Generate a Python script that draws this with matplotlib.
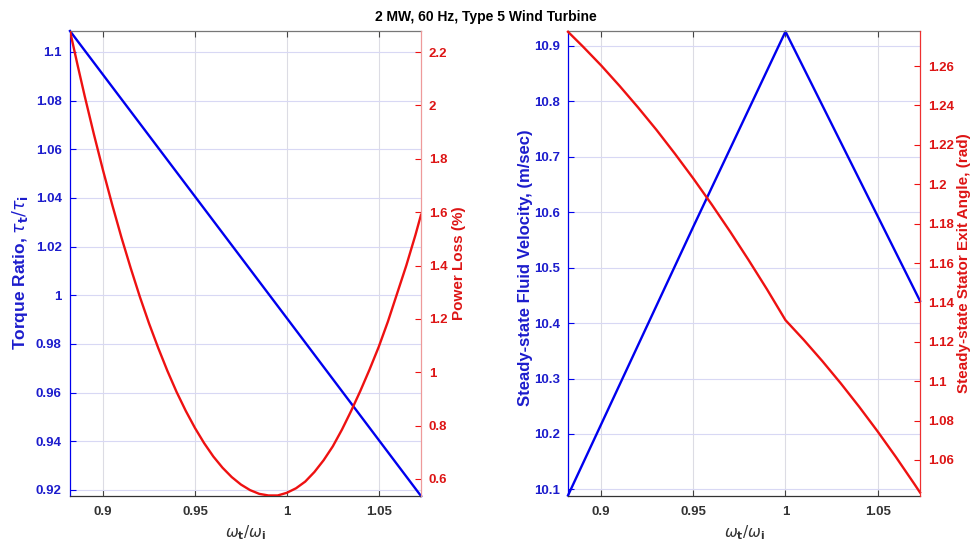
import matplotlib
matplotlib.use("Agg")
import matplotlib.pyplot as plt
from matplotlib.ticker import FuncFormatter

plt.rcParams['font.family'] = ['Liberation Sans', 'DejaVu Sans']
plt.rcParams['mathtext.fontset'] = 'dejavusans'

# ---------------- data ----------------
title = "2 MW, 60 Hz, Type 5 Wind Turbine"

# left panel
speed_ratio_torque = [0.882, 0.950, 1.000, 1.073]
torque_ratio = [1.1086, 1.0406, 0.9906, 0.9175]

speed_ratio_loss = [0.882, 0.886, 0.890, 0.895, 0.900, 0.905, 0.910, 0.915, 0.920, 0.925,
                    0.930, 0.935, 0.940, 0.945, 0.950, 0.955, 0.960, 0.965, 0.970, 0.975,
                    0.980, 0.985, 0.990, 0.995, 1.000, 1.005, 1.010, 1.015, 1.020, 1.025,
                    1.030, 1.035, 1.040, 1.045, 1.050, 1.055, 1.060, 1.065, 1.070, 1.073]
power_loss = [2.279, 2.155, 2.035, 1.892, 1.756, 1.627, 1.505, 1.391, 1.283, 1.183,
              1.091, 1.005, 0.926, 0.855, 0.791, 0.734, 0.684, 0.642, 0.607, 0.579,
              0.558, 0.544, 0.538, 0.538, 0.548, 0.565, 0.590, 0.626, 0.670, 0.722,
              0.785, 0.855, 0.930, 1.010, 1.095, 1.190, 1.295, 1.400, 1.515, 1.590]

# right panel
speed_ratio_vel = [0.882, 0.950, 1.000, 1.073]
fluid_velocity = [10.089, 10.574, 10.926, 10.440]

speed_ratio_angle = [0.882, 0.890, 0.900, 0.910, 0.920, 0.930, 0.940, 0.950, 0.960, 0.970,
                     0.980, 0.990, 1.000, 1.010, 1.020, 1.030, 1.040, 1.050, 1.060, 1.070, 1.073]
exit_angle = [1.2774, 1.2700, 1.2603, 1.2499, 1.2390, 1.2276, 1.2155, 1.2029, 1.1897, 1.1759,
              1.1615, 1.1466, 1.1310, 1.1209, 1.1102, 1.0989, 1.0870, 1.0745, 1.0614, 1.0477, 1.0435]

x_ticks = [0.9, 0.95, 1.0, 1.05]
torque_ticks = [0.92, 0.94, 0.96, 0.98, 1.0, 1.02, 1.04, 1.06, 1.08, 1.1]
loss_ticks = [0.6, 0.8, 1.0, 1.2, 1.4, 1.6, 1.8, 2.0, 2.2]
vel_ticks = [10.1, 10.2, 10.3, 10.4, 10.5, 10.6, 10.7, 10.8, 10.9]
angle_ticks = [1.06, 1.08, 1.1, 1.12, 1.14, 1.16, 1.18, 1.2, 1.22, 1.24, 1.26]

# ---------------- style ----------------
BLUE = '#0000ee'
BLUE_T = '#1c1ccc'
RED = '#ee1111'
RED_T = '#dd1515'
GRAY_T = '#333333'
fmt = FuncFormatter(lambda v, p: '%g' % round(v, 4))

fig = plt.figure(figsize=(9.72, 5.46), dpi=100)
fig.text(0.5, 0.969, title, ha='center', va='center', fontsize=10, fontweight='bold')

xlabel = r'$\omega_{\mathbf{t}}/\omega_{\mathbf{i}}$'


def style_pair(ax, ax2, ylab1, ylab2, lo1, hi1, lo2, hi2, t1, t2, rspine_col,
               lx1, lx2, fs1, fs2, ly1=0.5, ly2=0.5):
    ax.set_xlim(0.882, 1.073)
    ax.set_ylim(lo1, hi1)
    ax2.set_ylim(lo2, hi2)
    ax.set_xticks(x_ticks)
    ax.set_yticks(t1)
    ax2.set_yticks(t2)
    for a in (ax, ax2):
        a.xaxis.set_major_formatter(fmt)
        a.yaxis.set_major_formatter(fmt)
    ax.tick_params(axis='x', direction='in', length=4, width=0.8, color='#444444',
                   labelsize=9.5, labelcolor=GRAY_T, pad=7, top=True)
    ax.tick_params(axis='y', direction='in', length=4, width=0.8, color=BLUE,
                   labelsize=9.5, labelcolor=BLUE_T, pad=6)
    ax2.tick_params(axis='y', direction='in', length=4, width=0.8, color=RED,
                    labelsize=9.5, labelcolor=RED_T, pad=5.5)
    for lab in ax.get_xticklabels() + ax.get_yticklabels() + ax2.get_yticklabels():
        lab.set_fontweight('bold')
    ax.grid(axis='y', color='#d8d8f4', linewidth=0.8)
    ax.grid(axis='x', color='#dcdce4', linewidth=0.8)
    ax.set_axisbelow(True)
    ax.spines['left'].set_color(BLUE)
    ax.spines['bottom'].set_color('#333333')
    ax.spines['top'].set_color('#777777')
    ax2.spines['left'].set_visible(False)
    ax2.spines['top'].set_visible(False)
    ax2.spines['bottom'].set_visible(False)
    ax.spines['right'].set_visible(False)
    ax2.spines['right'].set_color(rspine_col)
    for s in ax.spines.values():
        s.set_linewidth(0.9)
    ax2.spines['right'].set_linewidth(0.9)
    ax.set_ylabel(ylab1, color=BLUE_T, fontsize=fs1, fontweight='bold')
    ax2.set_ylabel(ylab2, color=RED_T, fontsize=fs2, fontweight='bold')
    ax.yaxis.set_label_coords(lx1, ly1)
    ax2.yaxis.set_label_coords(lx2, ly2)
    ax.yaxis.label.set_verticalalignment('center')
    ax2.yaxis.label.set_verticalalignment('center')
    ax.set_xlabel(xlabel, color=GRAY_T, fontsize=11, labelpad=4)


# left panel
ax1 = fig.add_axes([70 / 972, 50 / 546, 351 / 972, 465 / 546])
ax1b = ax1.twinx()
ax1.plot(speed_ratio_torque, torque_ratio, color=BLUE, lw=1.7, clip_on=False)
ax1b.plot(speed_ratio_loss, power_loss, color=RED, lw=1.7, clip_on=True)
style_pair(ax1, ax1b, r'Torque Ratio, $\tau_{\mathbf{t}}/\tau_{\mathbf{i}}$', 'Power Loss (%)',
           0.9175, 1.1086, 0.536, 2.279, torque_ticks, loss_ticks, '#ee9a9a',
           (20 - 70) / 351, (459 - 70) / 351, 12.5, 11, 0.48, 0.5)

# right panel
ax2 = fig.add_axes([568 / 972, 50 / 546, 352 / 972, 465 / 546])
ax2b = ax2.twinx()
ax2.plot(speed_ratio_vel, fluid_velocity, color=BLUE, lw=1.7, clip_on=False)
ax2b.plot(speed_ratio_angle, exit_angle, color=RED, lw=1.7, clip_on=False)
style_pair(ax2, ax2b, 'Steady-state Fluid Velocity, (m/sec)', 'Steady-state Stator Exit Angle, (rad)',
           10.088, 10.927, 1.0417, 1.2778, vel_ticks, angle_ticks, '#ee3030',
           (525 - 568) / 352, (964 - 568) / 352, 12, 11, 0.49, 0.5)

fig.savefig('out.png', dpi=100)
